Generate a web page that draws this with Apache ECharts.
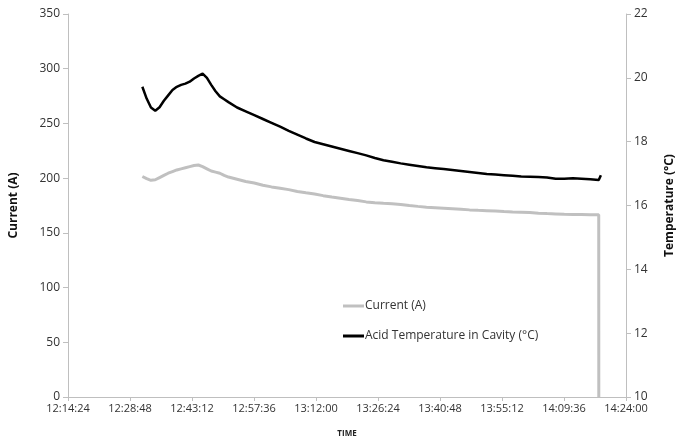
<!DOCTYPE html>
<html>
<head>
<meta charset="utf-8">
<script src="https://cdn.jsdelivr.net/npm/echarts@6/dist/echarts.min.js"></script>
<style>html,body{margin:0;padding:0;background:#fff}#c{width:684px;height:443px}</style>
</head>
<body>
<div id="c"></div>
<script>
// X tick labels (time of day)
const xTickLabels = ["12:14:24","12:28:48","12:43:12","12:57:36","13:12:00","13:26:24","13:40:48","13:55:12","14:09:36","14:24:00"];
const currentTicks = [0,50,100,150,200,250,300,350];
const tempTicks = [10,12,14,16,18,20,22];

// Current (A)
const currentTimes = ["12:31:40","12:32:40","12:33:40","12:34:40","12:35:40","12:36:40","12:37:40","12:38:40","12:39:40","12:40:40","12:41:40","12:42:40","12:43:40","12:44:40","12:45:40","12:46:40","12:47:40","12:48:40","12:49:40","12:50:40","12:51:40","12:53:40","12:55:40","12:57:40","12:59:40","13:01:40","13:03:40","13:05:40","13:07:40","13:09:40","13:11:40","13:13:40","13:15:40","13:17:40","13:19:40","13:21:40","13:23:40","13:25:40","13:27:40","13:29:40","13:31:40","13:33:40","13:35:40","13:37:40","13:39:40","13:41:40","13:43:40","13:45:40","13:47:40","13:49:40","13:51:40","13:53:40","13:55:40","13:57:40","13:59:40","14:01:40","14:03:40","14:05:40","14:07:40","14:09:40","14:11:40","14:13:40","14:15:40","14:17:40","14:17:41"];
const currentValues = [201.5,199.5,198.0,198.5,200.5,202.5,204.5,206.0,207.5,208.5,209.5,210.5,211.5,212.0,210.5,208.5,206.5,205.5,204.5,202.5,201.0,199.0,197.0,195.5,193.5,192.0,190.8,189.5,187.8,186.6,185.5,184.0,182.7,181.6,180.5,179.5,178.3,177.6,177.0,176.5,176.0,175.0,174.2,173.5,173.0,172.5,172.0,171.5,171.0,170.6,170.3,170.0,169.5,169.1,168.8,168.5,168.0,167.6,167.3,167.0,166.8,166.8,166.6,166.5,0];

// Acid Temperature in Cavity (°C)
const tempTimes = ["12:31:40","12:32:40","12:33:40","12:34:40","12:35:40","12:36:40","12:37:40","12:38:40","12:39:40","12:40:40","12:41:40","12:42:40","12:43:40","12:44:40","12:45:40","12:46:40","12:47:40","12:48:40","12:49:40","12:50:40","12:51:40","12:53:40","12:55:40","12:57:40","12:59:40","13:01:40","13:03:40","13:05:40","13:07:40","13:09:40","13:11:40","13:13:40","13:15:40","13:17:40","13:19:40","13:21:40","13:23:40","13:25:40","13:27:40","13:29:40","13:31:40","13:33:40","13:35:40","13:37:40","13:39:40","13:41:40","13:43:40","13:45:40","13:47:40","13:49:40","13:51:40","13:53:40","13:55:40","13:57:40","13:59:40","14:01:40","14:03:40","14:05:40","14:07:40","14:09:40","14:11:40","14:13:40","14:15:40","14:17:40","14:18:10"];
const tempValues = [19.72,19.35,19.07,18.97,19.08,19.28,19.45,19.62,19.72,19.78,19.82,19.88,19.98,20.06,20.13,20.0,19.78,19.58,19.42,19.33,19.24,19.07,18.95,18.83,18.71,18.59,18.47,18.34,18.22,18.10,17.99,17.92,17.85,17.78,17.71,17.64,17.57,17.49,17.42,17.37,17.32,17.28,17.24,17.20,17.17,17.14,17.11,17.08,17.05,17.02,16.99,16.97,16.95,16.93,16.91,16.90,16.89,16.88,16.84,16.84,16.85,16.84,16.82,16.80,16.95];

function toSec(s){const p=s.split(':').map(Number);return p[0]*3600+p[1]*60+p[2];}
function pad(n){return (n<10?'0':'')+n;}
function fmt(v){v=Math.round(v);return pad(Math.floor(v/3600))+':'+pad(Math.floor(v%3600/60))+':'+pad(v%60);}

const xMin = toSec(xTickLabels[0]);
const xMax = toSec(xTickLabels[xTickLabels.length-1]);
const xStep = toSec(xTickLabels[1]) - xMin;

const font = "'Open Sans', 'Noto Sans', sans-serif";
const axisGray = '#bfbfbf';

const chart = echarts.init(document.getElementById('c'));
chart.setOption({
  animation: false,
  backgroundColor: '#fff',
  grid: {left: 68, right: 54, top: 14, bottom: 41, containLabel: false},
  legend: {
    orient: 'vertical', left: 338, top: 295, itemGap: 18,
    icon: 'rect', itemWidth: 21, itemHeight: 3,
    textStyle: {fontFamily: font, fontSize: 12, color: '#333', padding: [0,0,0,-4]},
    data: ['Current (A)', 'Acid Temperature in Cavity (°C)']
  },
  xAxis: {
    type: 'value', min: xMin, max: xMax, interval: xStep,
    name: 'TIME', nameLocation: 'middle', nameGap: 33,
    nameTextStyle: {fontFamily: font, fontSize: 8, fontWeight: 'bold', color: '#222'},
    axisLine: {show: true, lineStyle: {color: axisGray, width: 1}},
    axisTick: {show: true, length: 4, lineStyle: {color: axisGray}},
    axisLabel: {formatter: fmt, fontFamily: font, fontSize: 11, color: '#333', margin: 6},
    splitLine: {show: false}
  },
  yAxis: [{
    type: 'value', min: currentTicks[0], max: currentTicks[currentTicks.length-1], interval: 50,
    name: 'Current (A)', nameLocation: 'middle', nameGap: 48,
    nameTextStyle: {fontFamily: font, fontSize: 12, fontWeight: 'bold', color: '#111'},
    axisLine: {show: true, lineStyle: {color: axisGray, width: 1}},
    axisTick: {show: true, length: 5, lineStyle: {color: axisGray}},
    axisLabel: {fontFamily: font, fontSize: 12, color: '#333', margin: 8},
    splitLine: {show: false}
  },{
    type: 'value', min: tempTicks[0], max: tempTicks[tempTicks.length-1], interval: 2,
    position: 'right',
    name: 'Temperature (°C)', nameLocation: 'middle', nameGap: 38, nameRotate: 90,
    nameTextStyle: {fontFamily: font, fontSize: 12, fontWeight: 'bold', color: '#111'},
    axisLine: {show: true, lineStyle: {color: axisGray, width: 1}},
    axisTick: {show: true, length: 5, lineStyle: {color: axisGray}},
    axisLabel: {fontFamily: font, fontSize: 12, color: '#333', margin: 8},
    splitLine: {show: false}
  }],
  series: [{
    name: 'Current (A)', type: 'line', yAxisIndex: 0, symbol: 'none', smooth: false,
    lineStyle: {color: '#c0c0c0', width: 3}, itemStyle: {color: '#c0c0c0'},
    data: currentTimes.map((t,i)=>[toSec(t), currentValues[i]])
  },{
    name: 'Acid Temperature in Cavity (°C)', type: 'line', yAxisIndex: 1, symbol: 'none', smooth: false,
    lineStyle: {color: '#000', width: 2.5}, itemStyle: {color: '#000'},
    data: tempTimes.map((t,i)=>[toSec(t), tempValues[i]])
  }]
});
</script>
</body>
</html>
